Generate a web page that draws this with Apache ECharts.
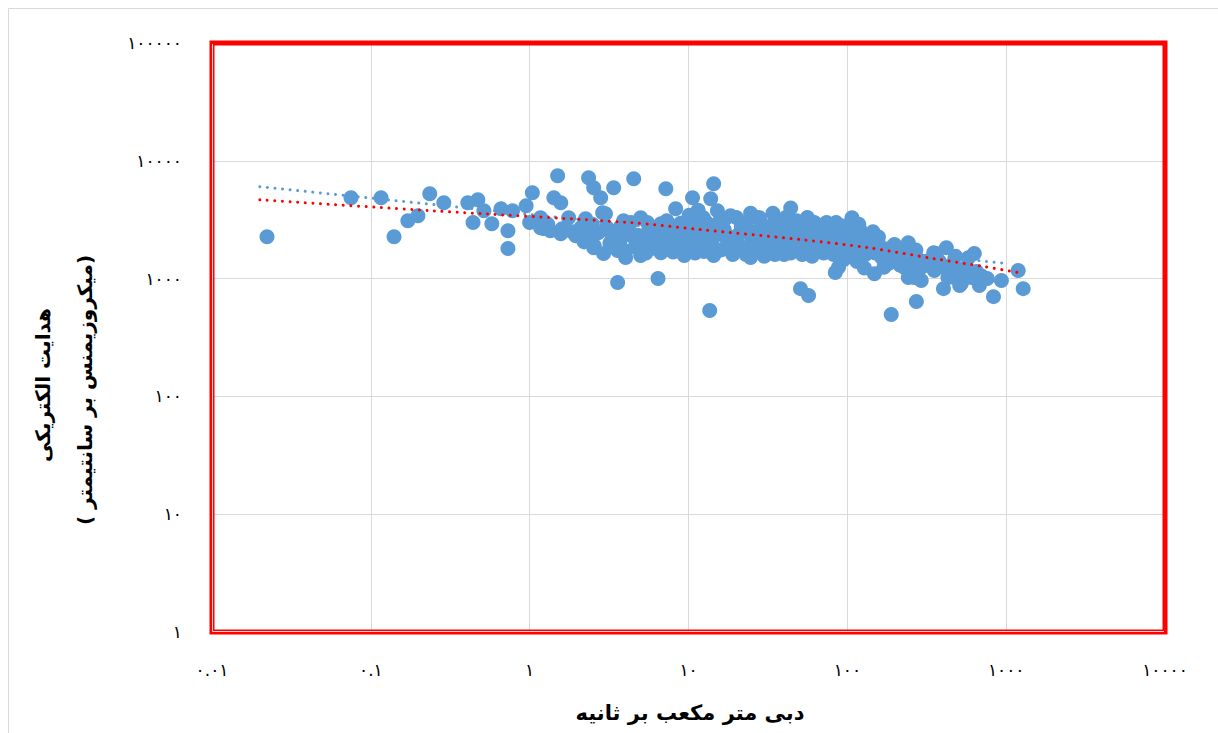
<!DOCTYPE html>
<html lang="fa">
<head>
<meta charset="utf-8">
<title>دبی و هدایت الکتریکی</title>
<script src="https://cdn.jsdelivr.net/npm/echarts@6/dist/echarts.min.js"></script>
<style>
  html, body { margin: 0; padding: 0; background: #ffffff; }
  #chart { width: 1218px; height: 733px; }
</style>
</head>
<body>
<div id="chart"></div>
<script>
// Discharge (m³/s) of each sample
const flow = [
  0.0222, 0.075, 0.116, 0.14, 0.171, 0.198, 0.235, 0.288, 0.408, 0.472, 0.44, 0.515, 0.578, 0.66, 0.73, 0.73, 0.78, 0.95, 1.04, 1.0, 1.17, 1.22, 1.42, 1.5, 1.57, 1.95, 2.35, 2.53, 2.8, 3.38, 2.53, 2.92, 3.58,
  1.17, 1.35, 1.57, 1.76, 2.25, 2.48, 2.88, 3.0, 3.05, 2.55, 3.58, 4.02, 3.7, 4.33, 4.1, 5.0, 5.0, 4.8, 5.6, 6.7, 6.7, 7.3, 7.3, 8.3, 8.6, 9.4, 10.6, 10.1, 10.9, 4.52, 7.2, 6.43, 13.6, 3.2, 5.8, 4.6, 6.0, 7.8, 8.9, 9.8, 5.3, 8.0, 6.2,
  1.3, 1.6, 1.85, 2.1, 2.3, 2.7, 3.3, 3.5, 3.9, 4.4, 4.8, 5.5, 5.9, 6.5, 7.0, 7.6, 8.2, 9.0, 9.5, 3.9, 5.4, 7.0, 9.0, 2.2,
  14.4, 13.8, 12.4, 15.2, 18.4, 10.3, 11.6, 14.4, 13.8, 16.5, 19.3, 21.5, 24.6, 24.6, 22.5, 28, 29, 32, 34, 36, 44, 40, 44, 44, 48, 53, 53, 61, 67, 71, 77, 83, 88, 84, 96, 107, 113, 120, 128, 50.7, 57,
  10.8, 11.5, 12.8, 15.5, 16.8, 17.5, 20, 20.5, 23, 26, 26, 27, 30, 31, 33, 37, 38, 41, 46, 49, 51, 56, 58, 62, 65, 70, 74, 78, 90, 93, 99, 102, 118, 125, 88,
  10.5, 11, 12, 12.5, 13, 14, 15, 16, 17, 18, 19, 21, 22, 23, 25, 27, 28, 30, 33, 35, 35, 39, 40, 43, 45, 47, 50, 52, 55, 59, 60, 64, 68, 72, 75, 80, 82, 85, 92, 95,
  136, 157, 148, 198, 242, 181, 229, 264, 292, 353, 420, 363, 408, 403, 472, 522, 578, 630, 604, 678, 933, 1190, 1280, 832, 272, 189,
  140, 150, 165, 185, 210, 240, 270, 300, 320, 170, 130, 115, 145, 110, 580, 350, 430, 510, 242, 292,
  105, 108, 112, 120, 135, 160, 175, 195, 215, 250, 225, 280, 380, 450, 500, 560, 650, 700, 760, 480
];

// Electrical conductivity (µS/cm) of each sample, same order as flow
const conductivity = [
  2270, 4860, 4860, 2270, 3100, 3420, 5250, 4410, 4400, 4670, 2990, 3770, 2920, 3920, 2550, 1800, 3770, 4160, 5360, 2990, 3290, 2660, 4860, 7460, 2400, 2310, 7180, 5900, 4860, 5900, 1830, 1630, 925,
  2700, 2550, 4410, 3290, 3220, 2900, 3630, 3560, 2730, 1900, 1730, 1510, 2100, 2990, 2600, 3290, 1570, 2330, 2530, 2920, 1660, 3100, 2200, 3920, 2530, 1570, 4860, 3450, 2350, 7030, 5800, 1000, 536, 2000, 1800, 1850, 2050, 1900, 2950, 2100, 2150, 1680, 2700,
  2900, 2650, 2500, 2700, 2350, 2450, 2300, 2550, 3100, 2300, 1900, 3000, 2350, 2250, 2600, 2800, 2150, 2450, 3000, 1750, 1650, 1750, 1750, 2050,
  6380, 4770, 3290, 3770, 3420, 1830, 2200, 1570, 2450, 2330, 2070, 2760, 3580, 1510, 1740, 3290, 2200, 1830, 3580, 2450, 3980, 2700, 2070, 1650, 3100, 2450, 1830, 2760, 2200, 1650, 2760, 2450, 1830, 1126, 2330, 3290, 2330, 1830, 1230, 822, 718,
  2900, 3800, 2700, 3000, 2600, 1900, 3300, 2350, 3000, 2500, 2000, 3300, 2800, 1700, 2200, 3100, 1900, 3300, 2800, 1900, 2300, 3300, 2000, 3000, 1700, 2500, 3000, 1900, 2100, 2800, 1600, 2600, 2900, 2100, 1250,
  2600, 1650, 2050, 1700, 3000, 2000, 2650, 1750, 3200, 2250, 1600, 1900, 2500, 1600, 2200, 1800, 2600, 1550, 2700, 1600, 3100, 2300, 1600, 3000, 2450, 1750, 2700, 1600, 2200, 2600, 1550, 2300, 1900, 2900, 2100, 2300, 1600, 3000, 1800, 1450,
  2250, 2250, 1100, 1950, 2020, 1340, 1240, 1020, 1240, 1170, 1830, 1630, 1240, 822, 1020, 908, 1506, 1630, 1020, 873, 962, 1170, 822, 703, 638, 495,
  2000, 1650, 1500, 1800, 1650, 1450, 1750, 1400, 1300, 1250, 1600, 1400, 2500, 2500, 1100, 1660, 1020, 873, 1020, 962,
  2000, 1700, 1500, 2600, 1800, 1900, 1550, 1400, 1300, 1250, 1700, 1450, 1400, 1300, 1200, 1250, 1150, 1050, 1000, 1550
];

// Trend lines (power fit in blue, second fit in red), read along their dotted paths
const powerTrendFlow = [0.02, 1030];
const powerTrendEc = [6030, 1340];
const redTrendFlow = [0.02, 0.239, 4.35, 12, 51.2, 135, 352, 727, 1191];
const redTrendEc = [4670, 3770, 2985, 2602, 2143, 1833, 1477, 1265, 1125];

// Axis tick labels in Persian digits, one per decade
const xTickLabels = ['۰.۰۱', '۰.۱', '۱', '۱۰', '۱۰۰', '۱۰۰۰', '۱۰۰۰۰'];
const yTickLabels = ['۱', '۱۰', '۱۰۰', '۱۰۰۰', '۱۰۰۰۰', '۱۰۰۰۰۰'];

const xTitle = 'دبی متر مکعب بر ثانیه';
const yTitleLines = ['هدایت الکتریکی', '( میکروزیمنس بر سانتیمتر)'];

const zip = (a, b) => a.map((v, i) => [v, b[i]]);

const FONT = 'DejaVu Sans';
const chart = echarts.init(document.getElementById('chart'), null, { renderer: 'svg' });

const PLOT = { left: 212, top: 43, right: 1165, bottom: 632 };

chart.setOption({
  animation: false,
  backgroundColor: '#ffffff',
  grid: {
    left: PLOT.left,
    top: PLOT.top,
    right: 1218 - PLOT.right,
    bottom: 733 - PLOT.bottom,
    containLabel: false
  },
  xAxis: {
    type: 'log',
    logBase: 10,
    min: 0.01,
    max: 10000,
    splitNumber: 6,
    axisLine: { show: false },
    axisTick: { show: false },
    axisLabel: {
      margin: 29,
      fontFamily: FONT,
      fontSize: 17,
      color: '#000000',
      formatter: v => xTickLabels[Math.round(Math.log10(v)) + 2]
    },
    splitLine: { show: true, lineStyle: { color: '#d9d9d9', width: 1 } }
  },
  yAxis: {
    type: 'log',
    logBase: 10,
    min: 1,
    max: 100000,
    splitNumber: 5,
    axisLine: { show: false },
    axisTick: { show: false },
    axisLabel: {
      margin: 30,
      fontFamily: FONT,
      fontSize: 17,
      color: '#000000',
      formatter: v => yTickLabels[Math.round(Math.log10(v))]
    },
    splitLine: { show: true, lineStyle: { color: '#d9d9d9', width: 1 } }
  },
  series: [
    {
      type: 'line',
      data: zip(powerTrendFlow, powerTrendEc),
      showSymbol: false,
      silent: true,
      lineStyle: { color: '#5b9bd5', width: 3, type: [0.01, 7.6], cap: 'round' },
      z: 2
    },
    {
      type: 'scatter',
      data: zip(flow, conductivity),
      symbol: 'circle',
      symbolSize: 15,
      itemStyle: { color: '#5b9bd5', opacity: 1 },
      z: 3
    },
    {
      type: 'line',
      data: zip(redTrendFlow, redTrendEc),
      showSymbol: false,
      smooth: 0.3,
      silent: true,
      lineStyle: { color: '#ff0000', width: 3, type: [0.01, 7.6], cap: 'round' },
      z: 4
    }
  ],
  graphic: [
    {
      type: 'rect',
      silent: true,
      z: 0,
      shape: { x: 8.5, y: 8.5, width: 1400, height: 900 },
      style: { fill: 'none', stroke: '#d9d9d9', lineWidth: 1 }
    },
    {
      type: 'rect',
      silent: true,
      z: 50,
      shape: { x: PLOT.left, y: PLOT.top, width: PLOT.right - PLOT.left, height: PLOT.bottom - PLOT.top },
      style: { fill: 'none', stroke: '#ff0000', lineWidth: 5 }
    },
    {
      type: 'polyline',
      silent: true,
      z: 51,
      shape: { points: [[PLOT.left + 0.5, PLOT.top + 1], [PLOT.left + 0.5, PLOT.bottom - 0.5], [PLOT.right - 1, PLOT.bottom - 0.5]] },
      style: { fill: 'none', stroke: '#ffd0d0', lineWidth: 1 }
    },
    {
      type: 'text',
      silent: true,
      x: 690,
      y: 713,
      style: {
        text: xTitle,
        fontFamily: FONT,
        fontWeight: 'bold',
        fontSize: 21,
        fill: '#000000',
        align: 'center',
        verticalAlign: 'middle'
      }
    },
    {
      type: 'text',
      silent: true,
      x: 43,
      y: 385,
      rotation: Math.PI / 2,
      style: {
        text: yTitleLines[0],
        fontFamily: FONT,
        fontWeight: 'bold',
        fontSize: 20,
        fill: '#000000',
        align: 'center',
        verticalAlign: 'middle'
      }
    },
    {
      type: 'text',
      silent: true,
      x: 85,
      y: 390,
      rotation: Math.PI / 2,
      style: {
        text: yTitleLines[1],
        fontFamily: FONT,
        fontWeight: 'bold',
        fontSize: 20,
        fill: '#000000',
        align: 'center',
        verticalAlign: 'middle'
      }
    }
  ]
});
</script>
</body>
</html>
